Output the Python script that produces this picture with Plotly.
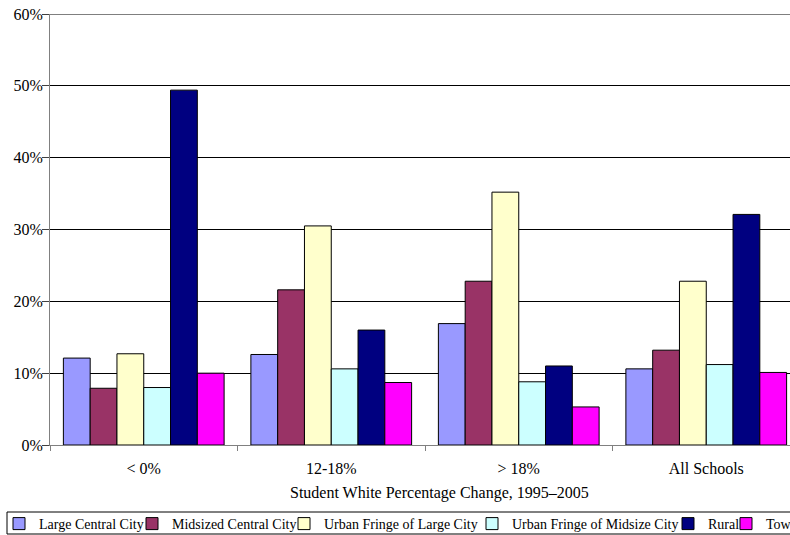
import plotly.graph_objects as go

categories = ["< 0%", "12-18%", "> 18%", "All Schools"]
series_names = ["Large Central City", "Midsized Central City", "Urban Fringe of Large City",
                "Urban Fringe of Midsize City", "Rural", "Town"]
large_central = [0.121, 0.126, 0.169, 0.106]
midsized_central = [0.079, 0.216, 0.228, 0.132]
fringe_large = [0.127, 0.305, 0.352, 0.228]
fringe_midsize = [0.080, 0.106, 0.088, 0.112]
rural = [0.494, 0.160, 0.110, 0.321]
town = [0.100, 0.087, 0.053, 0.101]
y_tick_vals = [0, 0.1, 0.2, 0.3, 0.4, 0.5, 0.6]
y_tick_text = ["0%", "10%", "20%", "30%", "40%", "50%", "60%"]

series_values = [large_central, midsized_central, fringe_large, fringe_midsize, rural, town]
colors = ["#9999FF", "#993366", "#FFFFCC", "#CCFFFF", "#000080", "#FF00FF"]

W, H = 790, 535
ML, MR, MT, MB = 50, 0, 14, 90
PW = W - ML - MR
PH = H - MT - MB

def px_x(px):
    return (px - ML) / PW

def px_y(py):
    return (H - MB - py) / PH

# legend text start positions (pixels)
legend_text_x = [39, 172, 324, 512, 708, 766]
legend_names = ["legend", "legend2", "legend3", "legend4", "legend5", "legend6"]

FONT = "Liberation Serif, Times New Roman, serif"

fig = go.Figure()
for i, (name, vals, col) in enumerate(zip(series_names, series_values, colors)):
    fig.add_trace(go.Bar(
        x=categories, y=vals, name=name,
        marker=dict(color=col, line=dict(color="#000000", width=1)),
        legend=legend_names[i],
    ))

layout_legends = {}
for i, ln in enumerate(legend_names):
    layout_legends[ln] = dict(
        x=px_x(legend_text_x[i] - 40), y=px_y(524), xanchor="left", yanchor="middle",
        orientation="h", bgcolor="rgba(0,0,0,0)", borderwidth=0,
        font=dict(family=FONT, size=14, color="#000000"),
        itemwidth=30, itemclick=False, itemdoubleclick=False,
    )

fig.update_layout(
    width=W, height=H,
    margin=dict(l=ML, r=MR, t=MT, b=MB, autoexpand=False),
    paper_bgcolor="#FFFFFF", plot_bgcolor="#FFFFFF",
    barmode="group", bargap=1/7, bargroupgap=0,
    font=dict(family=FONT, size=16, color="#000000"),
    showlegend=True,
    **layout_legends,
    xaxis=dict(
        type="category", range=[-0.5, -0.5 + PW / 187.5],
        showgrid=False, zeroline=False,
        showline=True, linecolor="#808080", linewidth=1,
        ticks="outside", tickson="boundaries", ticklen=5, tickcolor="#808080",
        tickfont=dict(family=FONT, size=16, color="#000000"),
        ticklabelstandoff=9,
    ),
    yaxis=dict(
        range=[0, 0.6], tickvals=y_tick_vals, ticktext=y_tick_text,
        showgrid=True, gridcolor="#000000", gridwidth=1,
        zeroline=False, showline=True, linecolor="#808080", linewidth=1,
        ticks="outside", ticklen=7, tickcolor="#404040",
        tickfont=dict(family=FONT, size=16, color="#000000"),
        ticklabelstandoff=-4,
    ),
    shapes=[
        dict(type="line", xref="paper", yref="y", x0=0, x1=1, y0=0.6, y1=0.6,
             line=dict(color="#000000", width=1), layer="below"),
        dict(type="rect", xref="paper", yref="paper",
             x0=px_x(7), x1=px_x(800), y0=px_y(534), y1=px_y(512),
             line=dict(color="#000000", width=1), fillcolor="rgba(0,0,0,0)", layer="above"),
    ],
    annotations=[dict(text="Student White Percentage Change, 1995–2005",
                      xref="paper", yref="paper", x=px_x(439.5), y=px_y(493),
                      xanchor="center", yanchor="middle", showarrow=False,
                      font=dict(family=FONT, size=16, color="#000000"))],
)

fig.write_html("out.html", config={"displayModeBar": False},
               post_script="document.body.style.margin='0';")
